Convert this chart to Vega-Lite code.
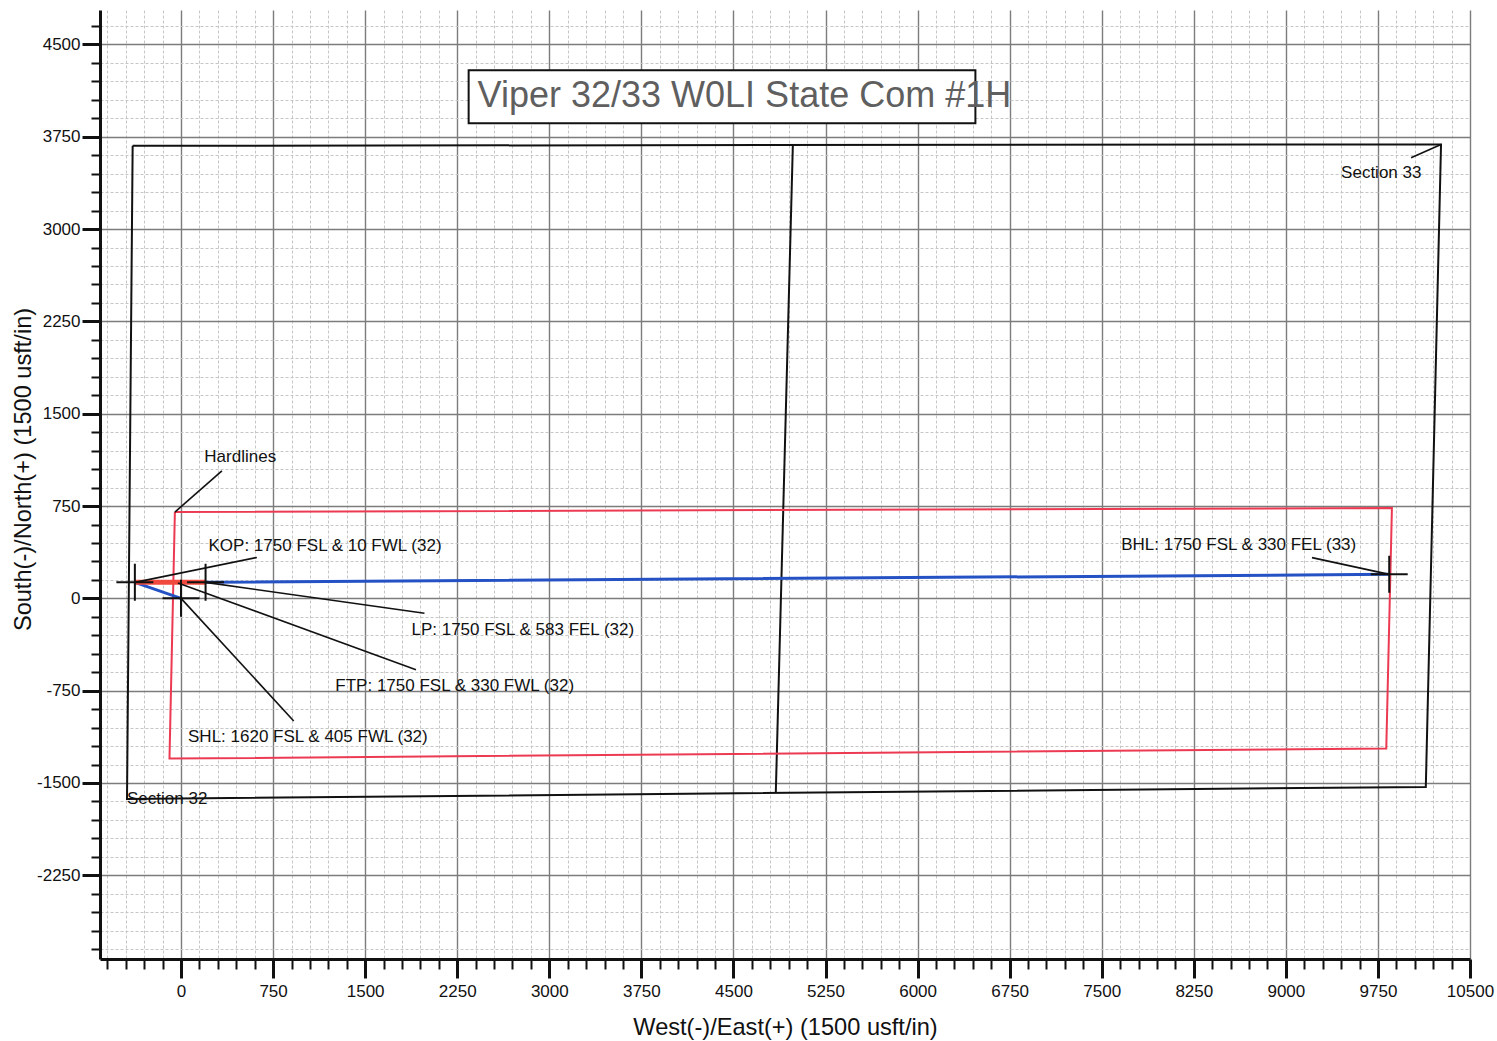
{
  "$schema": "https://vega.github.io/schema/vega-lite/v6.json",
  "width": 1370,
  "height": 949,
  "autosize": {"type": "none"},
  "padding": {"left": 100, "top": 10, "right": 27, "bottom": 82},
  "background": "white",
  "config": {
    "view": {"stroke": null},
    "font": "Liberation Sans"
  },
  "datasets": {
    "sections": [
      {"seg": "outline", "ord": 1, "x": -394, "y": 3677},
      {"seg": "outline", "ord": 2, "x": 10264, "y": 3688},
      {"seg": "outline", "ord": 3, "x": 10140, "y": -1532},
      {"seg": "outline", "ord": 4, "x": -440, "y": -1630},
      {"seg": "outline", "ord": 5, "x": -394, "y": 3677},
      {"seg": "middle", "ord": 1, "x": 4984, "y": 3687},
      {"seg": "middle", "ord": 2, "x": 4845, "y": -1581}
    ],
    "hardlines": [
      {"ord": 1, "x": -50, "y": 701},
      {"ord": 2, "x": 9864, "y": 734},
      {"ord": 3, "x": 9818, "y": -1220},
      {"ord": 4, "x": -94, "y": -1302},
      {"ord": 5, "x": -50, "y": 701}
    ],
    "wellbore": [
      {"ord": 1, "x": 0, "y": 0},
      {"ord": 2, "x": -376, "y": 130},
      {"ord": 3, "x": 200, "y": 130},
      {"ord": 4, "x": 9842, "y": 195}
    ],
    "curve": [
      {"ord": 1, "x": -376, "y": 130},
      {"ord": 2, "x": 200, "y": 130}
    ],
    "leaders": [
      {"seg": "Hardlines", "ord": 1, "x": -50, "y": 701},
      {"seg": "Hardlines", "ord": 2, "x": 333, "y": 1035},
      {"seg": "KOP", "ord": 1, "x": -376, "y": 130},
      {"seg": "KOP", "ord": 2, "x": 618, "y": 332},
      {"seg": "LP", "ord": 1, "x": 200, "y": 130},
      {"seg": "LP", "ord": 2, "x": 1983, "y": -121},
      {"seg": "FTP", "ord": 1, "x": -25, "y": 125},
      {"seg": "FTP", "ord": 2, "x": 1914, "y": -580},
      {"seg": "SHL", "ord": 1, "x": 0, "y": 0},
      {"seg": "SHL", "ord": 2, "x": 918, "y": -996},
      {"seg": "BHL", "ord": 1, "x": 9842, "y": 195},
      {"seg": "BHL", "ord": 2, "x": 9213, "y": 331},
      {"seg": "Section 33", "ord": 1, "x": 10264, "y": 3688},
      {"seg": "Section 33", "ord": 2, "x": 10020, "y": 3579}
    ],
    "points": [
      {"name": "KOP", "x": -376, "y": 130},
      {"name": "LP", "x": 200, "y": 130},
      {"name": "SHL", "x": 0, "y": 0},
      {"name": "BHL", "x": 9842, "y": 195}
    ],
    "labels": [
      {"label": "Hardlines", "x": 190, "y": 1146},
      {"label": "KOP: 1750 FSL & 10 FWL (32)", "x": 224, "y": 427},
      {"label": "LP: 1750 FSL & 583 FEL (32)", "x": 1877, "y": -254},
      {"label": "FTP: 1750 FSL & 330 FWL (32)", "x": 1257, "y": -708},
      {"label": "SHL: 1620 FSL & 405 FWL (32)", "x": 57, "y": -1127},
      {"label": "BHL: 1750 FSL & 330 FEL (33)", "x": 7659, "y": 433},
      {"label": "Section 33", "x": 9450, "y": 3457},
      {"label": "Section 32", "x": -440, "y": -1630}
    ],
    "titlebox": [
      {"x": 2343, "x2": 6471, "y": 4290, "y2": 3860}
    ],
    "title": [
      {"text": "Viper 32/33 W0LI State Com #1H", "x": 2416, "y": 4081}
    ]
  },
  "encoding": {
    "x": {
      "field": "x",
      "type": "quantitative",
      "scale": {"domain": [-660, 10500], "nice": false, "zero": false},
      "axis": {
        "values": [-600,-450,-300,-150,0,150,300,450,600,750,900,1050,1200,1350,1500,1650,1800,1950,2100,2250,2400,2550,2700,2850,3000,3150,3300,3450,3600,3750,3900,4050,4200,4350,4500,4650,4800,4950,5100,5250,5400,5550,5700,5850,6000,6150,6300,6450,6600,6750,6900,7050,7200,7350,7500,7650,7800,7950,8100,8250,8400,8550,8700,8850,9000,9150,9300,9450,9600,9750,9900,10050,10200,10350,10500],
        "labelExpr": "datum.value % 750 === 0 ? '' + datum.value : ''",
        "labelOverlap": false,
        "labelFlush": false,
        "labelBound": false,
        "labelFont": "Liberation Sans",
        "labelFontSize": 17,
        "labelColor": "#111111",
        "labelPadding": 5,
        "tickSize": {"condition": {"test": "datum.value % 750 === 0", "value": 19}, "value": 10},
        "tickWidth": {"condition": {"test": "datum.value % 750 === 0", "value": 3}, "value": 2},
        "tickColor": "#111111",
        "domainColor": "#111111",
        "domainWidth": 3,
        "grid": true,
        "gridColor": {"condition": {"test": "datum.value % 750 === 0", "value": "#7c7c7c"}, "value": "#c6c6c6"},
        "gridDash": {"condition": {"test": "datum.value % 750 === 0", "value": []}, "value": [3, 2]},
        "gridWidth": {"condition": {"test": "datum.value % 750 === 0", "value": 1.4}, "value": 1},
        "title": "West(-)/East(+) (1500 usft/in)",
        "titleFont": "Liberation Sans",
        "titleFontSize": 23.6,
        "titleFontWeight": "normal",
        "titleColor": "#111111",
        "titlePadding": 16
      }
    },
    "y": {
      "field": "y",
      "type": "quantitative",
      "scale": {"domain": [-2930, 4780], "nice": false, "zero": false},
      "axis": {
        "values": [-2850,-2700,-2550,-2400,-2250,-2100,-1950,-1800,-1650,-1500,-1350,-1200,-1050,-900,-750,-600,-450,-300,-150,0,150,300,450,600,750,900,1050,1200,1350,1500,1650,1800,1950,2100,2250,2400,2550,2700,2850,3000,3150,3300,3450,3600,3750,3900,4050,4200,4350,4500,4650],
        "labelExpr": "datum.value % 750 === 0 ? '' + datum.value : ''",
        "labelOverlap": false,
        "labelFlush": false,
        "labelBound": false,
        "labelFont": "Liberation Sans",
        "labelFontSize": 17,
        "labelColor": "#111111",
        "labelPadding": 2,
        "tickSize": {"condition": {"test": "datum.value % 750 === 0", "value": 18}, "value": 9},
        "tickWidth": {"condition": {"test": "datum.value % 750 === 0", "value": 3}, "value": 2},
        "tickColor": "#111111",
        "domainColor": "#111111",
        "domainWidth": 3,
        "grid": true,
        "gridColor": {"condition": {"test": "datum.value % 750 === 0", "value": "#7c7c7c"}, "value": "#c6c6c6"},
        "gridDash": {"condition": {"test": "datum.value % 750 === 0", "value": []}, "value": [3, 2]},
        "gridWidth": {"condition": {"test": "datum.value % 750 === 0", "value": 1.4}, "value": 1},
        "title": "South(-)/North(+) (1500 usft/in)",
        "titleFont": "Liberation Sans",
        "titleFontSize": 23.6,
        "titleFontWeight": "normal",
        "titleColor": "#111111",
        "titlePadding": 1,
        "titleY": 459
      }
    }
  },
  "layer": [
    {
      "data": {"name": "sections"},
      "mark": {"type": "line", "color": "#111111", "strokeWidth": 2},
      "encoding": {"detail": {"field": "seg"}, "order": {"field": "ord", "type": "quantitative"}}
    },
    {
      "data": {"name": "hardlines"},
      "mark": {"type": "line", "color": "#ec3a52", "strokeWidth": 2},
      "encoding": {"order": {"field": "ord", "type": "quantitative"}}
    },
    {
      "data": {"name": "wellbore"},
      "mark": {"type": "line", "color": "#2452c4", "strokeWidth": 3},
      "encoding": {"order": {"field": "ord", "type": "quantitative"}}
    },
    {
      "data": {"name": "curve"},
      "mark": {"type": "line", "color": "#f0483c", "strokeWidth": 5},
      "encoding": {"order": {"field": "ord", "type": "quantitative"}}
    },
    {
      "data": {"name": "leaders"},
      "mark": {"type": "line", "color": "#111111", "strokeWidth": 1.6},
      "encoding": {"detail": {"field": "seg"}, "order": {"field": "ord", "type": "quantitative"}}
    },
    {
      "data": {"name": "points"},
      "mark": {"type": "point", "shape": "M-1,0H1M0,-1V1", "size": 1369, "filled": false, "stroke": "#111111", "strokeWidth": 2, "opacity": 1}
    },
    {
      "data": {"name": "labels"},
      "mark": {"type": "text", "align": "left", "baseline": "middle", "font": "Liberation Sans", "fontSize": 17, "color": "#111111"},
      "encoding": {"text": {"field": "label"}}
    },
    {
      "data": {"name": "titlebox"},
      "mark": {"type": "rect", "fill": "white", "stroke": "#111111", "strokeWidth": 2},
      "encoding": {"x2": {"field": "x2"}, "y2": {"field": "y2"}}
    },
    {
      "data": {"name": "title"},
      "mark": {"type": "text", "align": "left", "baseline": "middle", "font": "Liberation Sans", "fontSize": 36, "color": "#5f5f5f"},
      "encoding": {"text": {"field": "text"}}
    }
  ]
}
